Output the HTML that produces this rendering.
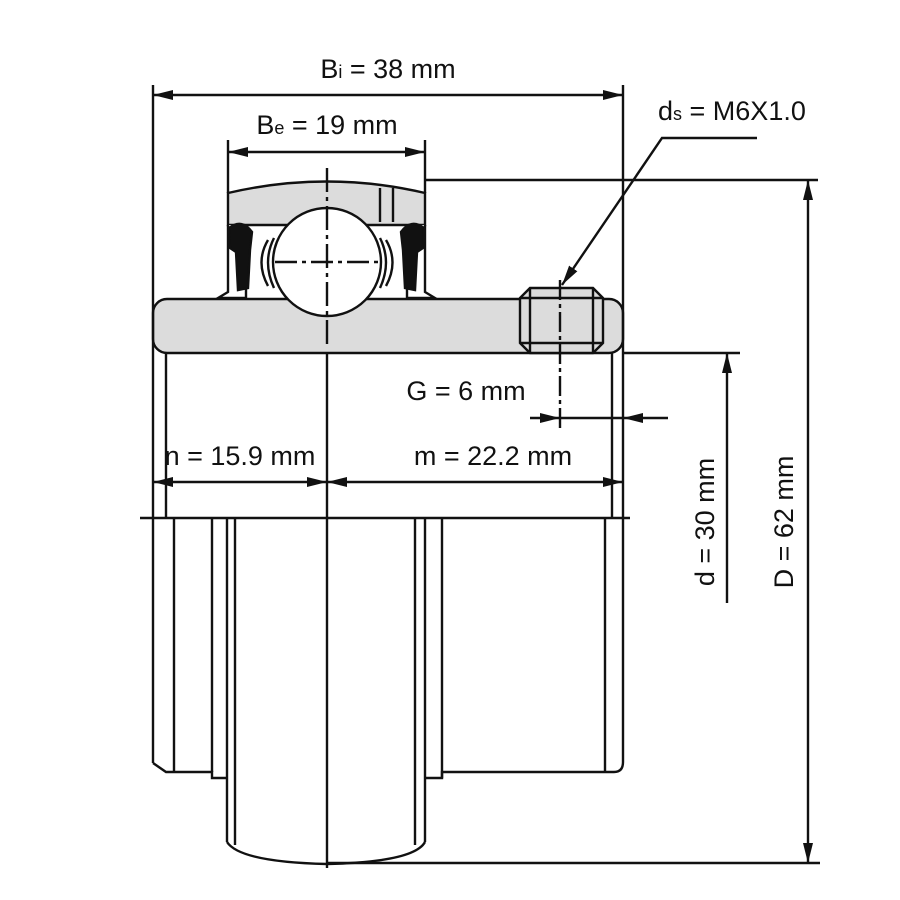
<!DOCTYPE html>
<html><head><meta charset="utf-8"><style>
html,body{margin:0;padding:0;background:#fff}
svg{display:block}
text{font-family:"Liberation Sans Narrow","Liberation Sans",sans-serif;font-size:27px;fill:#111}
</style></head><body>
<svg width="900" height="900" viewBox="0 0 900 900" xmlns="http://www.w3.org/2000/svg">
<defs>
<marker id="a" viewBox="0 0 20 10" refX="20" refY="5" markerWidth="20" markerHeight="10" markerUnits="userSpaceOnUse" orient="auto-start-reverse"><path d="M0,0 L20,5 L0,10 z" fill="#111"/></marker>
</defs>
<g stroke="#111" stroke-width="2.4" fill="none">
<path d="M228,193 Q327,170 425,193 L425,225 L228,225 Z" fill="#dcdcdc"/>
<line x1="380" y1="188" x2="380" y2="222"/><line x1="393" y1="188" x2="393" y2="222"/>
<path d="M228,225 L228,292 L218,298 L246,298 L246,225" fill="#fff"/>
<path d="M425,225 L425,292 L435,298 L407,298 L407,225" fill="#fff"/>
<path d="M229,228 Q242,218 252,232 L250,250 L248,288 L238,290 L236,252 L230,248 Z" fill="#111"/>
<path d="M424,228 Q411,218 401,232 L403,250 L405,288 L415,290 L417,252 L423,248 Z" fill="#111"/>
<path d="M268,240 Q255,262 268,286" /><path d="M274,238 Q262,262 274,288"/>
<path d="M386,240 Q399,262 386,286" /><path d="M380,238 Q392,262 380,288"/>
<rect x="153" y="299" width="470" height="54" rx="14" fill="#dcdcdc"/>
<circle cx="327" cy="262" r="54" fill="#fff"/>
<line x1="275" y1="262" x2="380" y2="262" stroke-dasharray="22,5,4,5"/>
<path d="M530,288 L593,288 L603,298 L603,343 L593,353 L530,353 L520,343 L520,298 Z" fill="#dcdcdc"/>
<line x1="530" y1="288" x2="530" y2="353"/><line x1="593" y1="288" x2="593" y2="353"/>
<line x1="520" y1="298" x2="603" y2="298"/><line x1="520" y1="343" x2="603" y2="343"/>
<line x1="327" y1="168" x2="327" y2="345" stroke-dasharray="24,5,4,5"/>
<line x1="327" y1="353" x2="327" y2="868"/>
<line x1="560" y1="280" x2="560" y2="432" stroke-dasharray="20,4,4,4"/>
<line x1="166" y1="353" x2="166" y2="518"/><line x1="612" y1="353" x2="612" y2="518"/>
<line x1="153" y1="353" x2="153" y2="763"/>
<line x1="623" y1="353" x2="623" y2="762"/>
<line x1="140" y1="518" x2="630" y2="518"/>
<path d="M153,763 L166,772 L212,772 L212,778 L227,778"/>
<line x1="174" y1="518" x2="174" y2="772"/>
<line x1="212" y1="518" x2="212" y2="772"/>
<line x1="227" y1="518" x2="227" y2="842"/>
<line x1="235" y1="518" x2="235" y2="845"/>
<line x1="415" y1="518" x2="415" y2="845"/>
<line x1="425" y1="518" x2="425" y2="842"/>
<line x1="442" y1="518" x2="442" y2="778"/>
<path d="M425,778 L442,778 L442,772 L614,772 Q623,772 623,762"/>
<line x1="605" y1="518" x2="605" y2="772"/>
<path d="M227,842 Q240,862 327,864 Q414,862 425,842"/>
<line x1="327" y1="863" x2="820" y2="863"/>
<line x1="153" y1="85" x2="153" y2="353"/><line x1="623" y1="85" x2="623" y2="353"/>
<line x1="228" y1="140" x2="228" y2="193"/><line x1="425" y1="140" x2="425" y2="193"/>
<line x1="425" y1="180" x2="818" y2="180"/>
<line x1="623" y1="353" x2="740" y2="353"/>
<line x1="153" y1="95" x2="623" y2="95" marker-start="url(#a)" marker-end="url(#a)"/>
<line x1="228" y1="152" x2="425" y2="152" marker-start="url(#a)" marker-end="url(#a)"/>
<line x1="153" y1="482" x2="327" y2="482" marker-start="url(#a)" marker-end="url(#a)"/>
<line x1="327" y1="482" x2="623" y2="482" marker-start="url(#a)" marker-end="url(#a)"/>
<line x1="530" y1="418" x2="560" y2="418" marker-end="url(#a)"/>
<line x1="668" y1="418" x2="623" y2="418" marker-end="url(#a)"/>
<line x1="560" y1="418" x2="623" y2="418"/>
<line x1="808" y1="180" x2="808" y2="863" marker-start="url(#a)" marker-end="url(#a)"/>
<line x1="727" y1="603" x2="727" y2="353" marker-end="url(#a)"/>
<polyline points="757,138 662,138 562,285" marker-end="url(#a)"/>
</g>
<text x="388" y="78" text-anchor="middle">B<tspan font-size="18">i</tspan> = 38 mm</text>
<text x="327" y="134" text-anchor="middle">B<tspan font-size="18">e</tspan> = 19 mm</text>
<text x="658" y="120">d<tspan font-size="18">s</tspan> = M6X1.0</text>
<text x="466" y="400" text-anchor="middle">G = 6 mm</text>
<text x="240" y="465" text-anchor="middle">n = 15.9 mm</text>
<text x="493" y="465" text-anchor="middle">m = 22.2 mm</text>
<text transform="translate(714,522) rotate(-90)" text-anchor="middle">d = 30 mm</text>
<text transform="translate(793,522) rotate(-90)" text-anchor="middle">D = 62 mm</text>
</svg>
</body></html>
